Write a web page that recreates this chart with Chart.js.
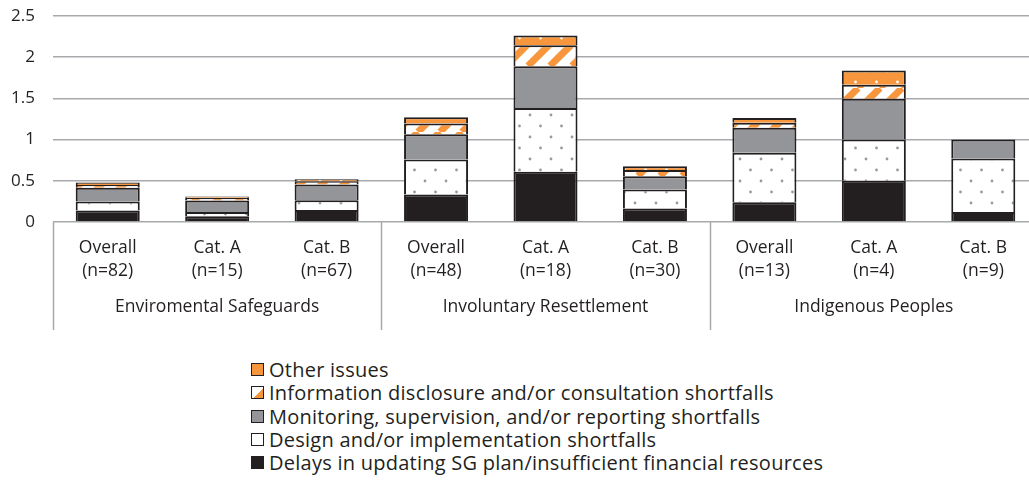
<!DOCTYPE html>
<html>
<head>
<meta charset="utf-8">
<script src="https://cdn.jsdelivr.net/npm/chart.js@4.4.1/dist/chart.umd.min.js"></script>
<style>
  html, body { margin: 0; padding: 0; background: #fff; overflow: hidden; }
  #wrap { position: relative; width: 1040px; height: 330px; }
  #legend { position: absolute; left: 251px; top: 358px; font-family: 'Open Sans', sans-serif; font-size: 20px; letter-spacing: 0.25px; color: #231F20; }
  #legend .row { height: 23.3px; display: flex; align-items: center; white-space: nowrap; }
  #legend .sw { width: 13px; height: 13px; box-sizing: border-box; border: 1.5px solid #231F20; margin-right: 5px; }
</style>
</head>
<body>
<div id="wrap"><canvas id="chart"></canvas></div>
<div id="legend"></div>
<script>
(function () {
  'use strict';

  var categories = [
    ['Overall', '(n=82)'], ['Cat. A', '(n=15)'], ['Cat. B', '(n=67)'],
    ['Overall', '(n=48)'], ['Cat. A', '(n=18)'], ['Cat. B', '(n=30)'],
    ['Overall', '(n=13)'], ['Cat. A', '(n=4)'], ['Cat. B', '(n=9)']
  ];
  var groups = ['Enviromental Safeguards', 'Involuntary Resettlement', 'Indigenous Peoples'];
  var groupSize = 3;

  var delays     = [0.14, 0.07, 0.145, 0.335, 0.61, 0.165, 0.24, 0.5, 0.12];
  var design     = [0.11, 0.05, 0.12, 0.425, 0.775, 0.23, 0.6, 0.5, 0.65];
  var monitoring = [0.165, 0.14, 0.19, 0.305, 0.505, 0.16, 0.305, 0.495, 0.23];
  var disclosure = [0.035, 0.035, 0.04, 0.13, 0.255, 0.075, 0.06, 0.17, 0];
  var other      = [0.03, 0.015, 0.025, 0.077, 0.118, 0.047, 0.058, 0.175, 0];
  var yTicks = [0, 0.5, 1, 1.5, 2, 2.5];

  var INK = '#231F20';
  var ORANGE = '#F7963D';
  var GREY = '#939598';
  var GRID = '#A7A9AC';
  var FONT = "'Open Sans', sans-serif";

  var canvas = document.getElementById('chart');
  var ctx = canvas.getContext('2d');

  function tile(w, h, draw) {
    var c = document.createElement('canvas');
    c.width = w; c.height = h;
    draw(c.getContext('2d'), w, h);
    return ctx.createPattern(c, 'repeat');
  }

  function dots(bg, fg) {
    return tile(21, 22, function (g, w, h) {
      g.fillStyle = bg; g.fillRect(0, 0, w, h);
      g.fillStyle = fg;
      g.beginPath(); g.arc(5, 5, 1.4, 0, Math.PI * 2); g.fill();
      g.beginPath(); g.arc(15.5, 16, 1.4, 0, Math.PI * 2); g.fill();
    });
  }

  var stripes = tile(22, 22, function (g, w, h) {
    g.fillStyle = '#fff'; g.fillRect(0, 0, w, h);
    g.strokeStyle = ORANGE; g.lineWidth = 7;
    for (var k = -1; k <= 1; k++) {
      g.beginPath(); g.moveTo(k * w, h); g.lineTo(k * w + w, 0); g.stroke();
    }
  });

  var seriesDefs = [
    { label: 'Delays in updating SG plan/insufficient financial resources', data: delays, fill: INK, swatch: INK },
    { label: 'Design and/or implementation shortfalls', data: design, fill: dots('#fff', '#9a9a9a'), swatch: '#fff' },
    { label: 'Monitoring, supervision, and/or reporting shortfalls', data: monitoring, fill: GREY, swatch: GREY },
    { label: 'Information disclosure and/or consultation shortfalls', data: disclosure, fill: stripes, swatch: 'linear-gradient(135deg, #fff 55%, ' + ORANGE + ' 55%)' },
    { label: 'Other issues', data: other, fill: dots(ORANGE, '#fff'), swatch: ORANGE }
  ];

  /* separators and group names under the category labels */
  var groupAxis = {
    id: 'groupAxis',
    afterDraw: function (chart) {
      var x = chart.scales.x, area = chart.chartArea, c = chart.ctx;
      var bottom = area.bottom + 108;
      c.save();
      c.strokeStyle = GRID; c.lineWidth = 1.5;
      for (var gi = 0; gi < groups.length; gi++) {
        var first = gi * groupSize, last = first + groupSize - 1;
        var edge = first === 0 ? area.left : (x.getPixelForValue(first - 1) + x.getPixelForValue(first)) / 2;
        c.beginPath(); c.moveTo(Math.round(edge) + 0.5, area.bottom); c.lineTo(Math.round(edge) + 0.5, bottom); c.stroke();
        c.fillStyle = INK;
        c.font = '17.5px ' + FONT;
        c.textAlign = 'center'; c.textBaseline = 'middle';
        c.fillText(groups[gi], (x.getPixelForValue(first) + x.getPixelForValue(last)) / 2, area.bottom + 85);
      }
      c.restore();
    }
  };

  new Chart(ctx, {
    type: 'bar',
    data: {
      labels: categories,
      datasets: seriesDefs.map(function (s) {
        return {
          label: s.label, data: s.data, backgroundColor: s.fill,
          borderColor: INK, borderWidth: 2, borderSkipped: 'start',
          categoryPercentage: 1, barPercentage: 0.585
        };
      })
    },
    options: {
      responsive: true,
      maintainAspectRatio: false,
      animation: false,
      layout: { padding: { top: 16, right: 2, left: 0, bottom: 0 } },
      plugins: { legend: { display: false }, tooltip: { enabled: false } },
      scales: {
        x: {
          stacked: true,
          grid: { display: false, drawTicks: false },
          border: { display: false },
          afterFit: function (s) { s.height = 108; s.paddingLeft = 0; s.paddingRight = 0; },
          ticks: {
            autoSkip: false, maxRotation: 0, padding: 15, color: INK,
            font: { family: FONT, size: 17.5, lineHeight: '23px' }
          }
        },
        y: {
          stacked: true, min: 0, max: 2.5,
          afterFit: function (s) { s.width = 53; s.paddingTop = 0; s.paddingBottom = 0; },
          afterBuildTicks: function (s) { s.ticks = yTicks.map(function (v) { return { value: v }; }); },
          grid: { color: GRID, lineWidth: 1.5, drawTicks: false },
          border: { display: false },
          ticks: {
            padding: 18, color: INK, font: { family: FONT, size: 17 },
            callback: function (v) { return String(v); }
          }
        }
      }
    },
    plugins: [groupAxis]
  });

  var legend = document.getElementById('legend');
  seriesDefs.slice().reverse().forEach(function (s) {
    var row = document.createElement('div');
    row.className = 'row';
    var sw = document.createElement('span');
    sw.className = 'sw';
    sw.style.background = s.swatch;
    var txt = document.createElement('span');
    txt.textContent = s.label;
    row.appendChild(sw); row.appendChild(txt);
    legend.appendChild(row);
  });
})();
</script>
</body>
</html>
